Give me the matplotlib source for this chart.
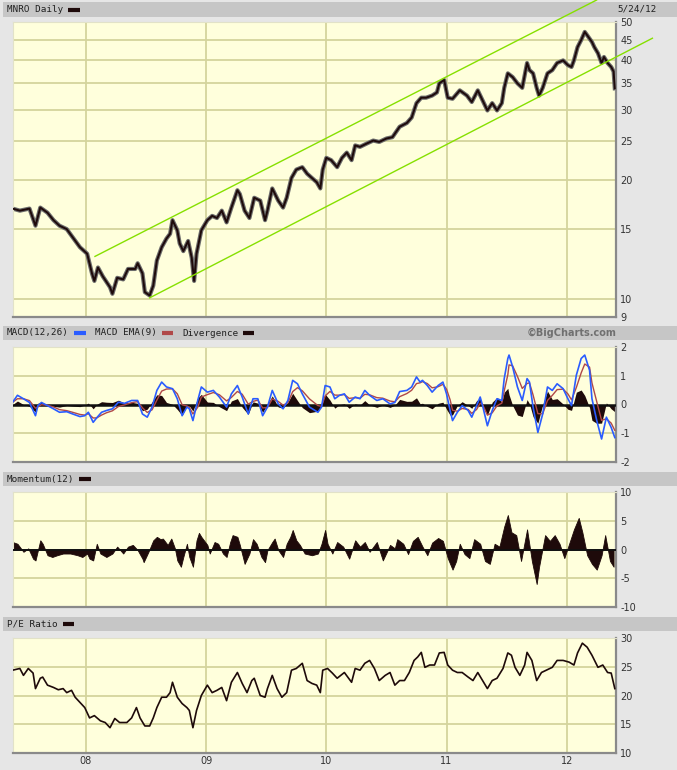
import matplotlib
matplotlib.use("Agg")
import matplotlib.pyplot as plt
from matplotlib.patches import Rectangle
from matplotlib.lines import Line2D
from matplotlib.ticker import NullLocator
import pandas as pd

# ---- data (decimal years) ----
price_dates = [
    2007.39, 2007.45, 2007.53, 2007.58, 2007.62, 2007.68, 2007.73, 2007.78, 2007.84, 2007.89,
    2007.95, 2008.01, 2008.05, 2008.07, 2008.10, 2008.14, 2008.20, 2008.22, 2008.26, 2008.31,
    2008.35, 2008.41, 2008.43, 2008.47, 2008.49, 2008.53, 2008.56, 2008.59, 2008.63, 2008.67,
    2008.70, 2008.72, 2008.76, 2008.78, 2008.81, 2008.85, 2008.88, 2008.90, 2008.92, 2008.96,
    2009.01, 2009.05, 2009.09, 2009.13, 2009.17, 2009.21, 2009.26, 2009.28, 2009.32, 2009.36,
    2009.40, 2009.45, 2009.49, 2009.51, 2009.55, 2009.60, 2009.64, 2009.67, 2009.71, 2009.75,
    2009.80, 2009.84, 2009.88, 2009.92, 2009.95, 2009.97, 2010.00, 2010.04, 2010.09, 2010.13,
    2010.17, 2010.21, 2010.24, 2010.28, 2010.34, 2010.39, 2010.44, 2010.50, 2010.55, 2010.61,
    2010.67, 2010.71, 2010.75, 2010.79, 2010.83, 2010.88, 2010.92, 2010.94, 2010.98, 2011.01,
    2011.05, 2011.11, 2011.17, 2011.21, 2011.26, 2011.30, 2011.34, 2011.38, 2011.42, 2011.46,
    2011.48, 2011.51, 2011.55, 2011.59, 2011.63, 2011.67, 2011.69, 2011.72, 2011.75, 2011.77,
    2011.80, 2011.84, 2011.88, 2011.92, 2011.97, 2012.01, 2012.04, 2012.06, 2012.09, 2012.12,
    2012.15, 2012.17, 2012.21, 2012.23, 2012.26, 2012.29, 2012.31, 2012.34, 2012.37, 2012.39,
    2012.40]
price = [
    16.9, 16.7, 16.9, 15.3, 17.0, 16.5, 15.8, 15.3, 15.0, 14.3,
    13.5, 13.0, 11.6, 11.1, 12.0, 11.4, 10.7, 10.3, 11.3, 11.2,
    11.9, 11.9, 12.3, 11.6, 10.4, 10.2, 10.8, 12.5, 13.5, 14.2,
    14.6, 15.8, 14.9, 13.8, 13.2, 14.0, 12.7, 11.1, 13.0, 14.9,
    15.8, 16.2, 16.0, 16.7, 15.6, 17.0, 18.8, 18.4, 16.7, 16.0,
    18.0, 17.7, 15.8, 16.7, 19.0, 17.7, 17.0, 18.0, 20.2, 21.2,
    21.5, 20.7, 20.2, 19.7, 19.0, 21.2, 22.7, 22.4, 21.5, 22.7,
    23.4, 22.4, 24.4, 24.2, 24.7, 25.1, 24.9, 25.4, 25.6, 27.2,
    27.8, 28.7, 31.2, 32.2, 32.2, 32.6, 33.2, 35.0, 35.7, 32.2,
    32.0, 33.6, 32.6, 31.4, 33.6, 31.7, 29.9, 31.2, 29.9, 31.2,
    34.1, 37.1, 36.3, 35.0, 34.1, 39.4, 37.8, 37.1, 34.1, 32.6,
    34.1, 37.1, 37.8, 39.4, 40.0, 38.9, 38.5, 40.0, 43.2, 45.0,
    47.2, 46.3, 44.5, 43.2, 41.7, 39.4, 40.8, 39.4, 38.5, 37.5,
    34.0]

# trend channel end points (date, price)
channel_upper = [(2008.075, 12.8), (2012.248, 56.8)]
channel_lower = [(2008.53, 10.06), (2012.713, 45.5)]

macd_dates = [
    2007.39, 2007.43, 2007.48, 2007.53, 2007.58, 2007.60, 2007.63, 2007.68, 2007.73, 2007.78,
    2007.84, 2007.89, 2007.95, 2007.99, 2008.02, 2008.06, 2008.09, 2008.13, 2008.17, 2008.22,
    2008.27, 2008.32, 2008.38, 2008.43, 2008.47, 2008.51, 2008.55, 2008.59, 2008.63, 2008.67,
    2008.72, 2008.76, 2008.80, 2008.84, 2008.86, 2008.89, 2008.93, 2008.96, 2009.01, 2009.06,
    2009.11, 2009.17, 2009.21, 2009.26, 2009.30, 2009.35, 2009.39, 2009.43, 2009.47, 2009.51,
    2009.55, 2009.60, 2009.64, 2009.68, 2009.72, 2009.76, 2009.80, 2009.86, 2009.93, 2009.96,
    2009.99, 2010.03, 2010.07, 2010.11, 2010.15, 2010.19, 2010.24, 2010.28, 2010.32, 2010.36,
    2010.42, 2010.47, 2010.53, 2010.57, 2010.61, 2010.67, 2010.71, 2010.75, 2010.78, 2010.80,
    2010.84, 2010.88, 2010.93, 2010.97, 2011.00, 2011.03, 2011.05, 2011.09, 2011.13, 2011.18,
    2011.21, 2011.25, 2011.28, 2011.30, 2011.34, 2011.38, 2011.42, 2011.46, 2011.48, 2011.51,
    2011.52, 2011.55, 2011.59, 2011.63, 2011.67, 2011.69, 2011.72, 2011.76, 2011.80, 2011.84,
    2011.88, 2011.92, 2011.97, 2012.01, 2012.04, 2012.08, 2012.12, 2012.15, 2012.19, 2012.21,
    2012.25, 2012.29, 2012.33, 2012.37, 2012.40]
macd = [
    0.08, 0.32, 0.20, 0.07, -0.39, -0.04, 0.07, -0.04, -0.15, -0.27,
    -0.25, -0.33, -0.42, -0.39, -0.27, -0.62, -0.46, -0.27, -0.21, -0.15,
    0.08, 0.04, 0.14, 0.14, -0.33, -0.44, -0.09, 0.49, 0.78, 0.61,
    0.55, 0.20, -0.39, -0.09, -0.15, -0.56, 0.14, 0.61, 0.43, 0.49,
    0.26, -0.09, 0.37, 0.66, 0.26, -0.33, 0.20, 0.20, -0.39, -0.09,
    0.49, 0.02, -0.15, 0.14, 0.84, 0.72, 0.37, -0.09, -0.27, -0.09,
    0.66, 0.61, 0.20, 0.32, 0.37, 0.08, 0.26, 0.20, 0.49, 0.32,
    0.14, 0.20, 0.02, 0.07, 0.45, 0.49, 0.61, 0.96, 0.78, 0.84,
    0.66, 0.43, 0.66, 0.78, 0.37, -0.21, -0.56, -0.27, -0.04, -0.21,
    -0.44, -0.04, 0.26, -0.04, -0.74, -0.21, 0.20, 0.14, 0.90, 1.60,
    1.72, 1.31, 0.61, 0.14, 0.90, 0.78, -0.09, -0.97, -0.33, 0.61,
    0.49, 0.72, 0.55, 0.20, -0.04, 1.02, 1.60, 1.72, 1.19, 0.20,
    -0.56, -1.20, -0.44, -0.80, -1.15]

mom_dates = [
    2007.39, 2007.43, 2007.48, 2007.52, 2007.56, 2007.58, 2007.62, 2007.64, 2007.68, 2007.72,
    2007.76, 2007.81, 2007.87, 2007.93, 2007.97, 2008.01, 2008.03, 2008.06, 2008.09, 2008.12,
    2008.17, 2008.22, 2008.26, 2008.31, 2008.35, 2008.39, 2008.43, 2008.47, 2008.48, 2008.52,
    2008.56, 2008.59, 2008.62, 2008.64, 2008.68, 2008.71, 2008.74, 2008.76, 2008.79, 2008.81,
    2008.84, 2008.86, 2008.89, 2008.92, 2008.94, 2008.96, 2009.01, 2009.03, 2009.07, 2009.10,
    2009.14, 2009.17, 2009.20, 2009.22, 2009.26, 2009.28, 2009.32, 2009.36, 2009.39, 2009.42,
    2009.46, 2009.49, 2009.51, 2009.55, 2009.57, 2009.60, 2009.64, 2009.67, 2009.70, 2009.72,
    2009.75, 2009.78, 2009.82, 2009.88, 2009.93, 2009.96, 2009.99, 2010.01, 2010.05, 2010.09,
    2010.14, 2010.19, 2010.24, 2010.28, 2010.32, 2010.36, 2010.42, 2010.47, 2010.53, 2010.57,
    2010.59, 2010.64, 2010.68, 2010.72, 2010.76, 2010.80, 2010.84, 2010.88, 2010.93, 2010.97,
    2011.01, 2011.05, 2011.08, 2011.11, 2011.15, 2011.19, 2011.23, 2011.28, 2011.32, 2011.36,
    2011.40, 2011.44, 2011.48, 2011.51, 2011.54, 2011.58, 2011.62, 2011.67, 2011.71, 2011.75,
    2011.77, 2011.82, 2011.86, 2011.90, 2011.94, 2011.98, 2012.02, 2012.06, 2012.10, 2012.13,
    2012.17, 2012.21, 2012.25, 2012.29, 2012.32, 2012.36, 2012.39]
momentum = [
    1.3, 1.0, -0.4, 0.2, -1.6, -1.9, 1.6, 1.0, -1.0, -1.3,
    -1.0, -0.7, -0.7, -1.0, -1.3, -0.7, -1.6, -1.9, 1.0, -0.7,
    -1.3, -0.7, 0.5, -0.7, 0.5, 0.8, -0.1, -1.6, -2.2, -0.4,
    1.6, 2.2, 1.8, 1.9, 0.8, 1.9, 0.2, -1.9, -3.0, -1.3,
    1.0, -1.3, -3.0, 1.6, 2.9, 2.2, 0.8, -0.7, 1.3, 1.0,
    -0.7, -1.3, 1.3, 2.5, 2.2, 0.8, -2.5, -0.7, 1.8, 1.0,
    -1.3, -2.2, -0.1, 1.3, 1.9, -0.1, -1.3, 1.0, 2.2, 3.4,
    1.6, 0.8, -0.7, -1.0, -0.7, 1.0, 3.4, 1.0, -0.7, 1.3,
    0.5, -1.6, 1.6, 0.5, 1.3, -0.4, 1.3, -1.9, 0.8, 0.2,
    1.8, 1.0, -0.8, 1.5, 2.2, 0.5, -1.0, 1.2, 2.0, 1.5,
    -1.5, -3.5, -2.0, 1.0, -0.8, -1.5, 1.8, 1.0, -2.0, -2.5,
    1.0, 0.5, 4.0, 6.0, 3.0, 2.5, -2.0, 3.5, -2.0, -6.0,
    -3.0, 2.5, 1.5, 2.5, 1.0, -1.5, 1.0, 3.5, 5.5, 3.0,
    -1.0, -2.5, -3.5, -1.0, 2.5, -2.0, -3.0]

pe_dates = [
    2007.39, 2007.45, 2007.48, 2007.52, 2007.56, 2007.58, 2007.62, 2007.64, 2007.68, 2007.73,
    2007.77, 2007.81, 2007.84, 2007.88, 2007.91, 2007.95, 2007.99, 2008.03, 2008.07, 2008.12,
    2008.16, 2008.20, 2008.24, 2008.28, 2008.34, 2008.38, 2008.42, 2008.45, 2008.49, 2008.53,
    2008.56, 2008.59, 2008.63, 2008.67, 2008.70, 2008.72, 2008.76, 2008.80, 2008.84, 2008.86,
    2008.89, 2008.92, 2008.96, 2009.01, 2009.05, 2009.09, 2009.13, 2009.17, 2009.21, 2009.26,
    2009.30, 2009.34, 2009.38, 2009.40, 2009.45, 2009.49, 2009.51, 2009.55, 2009.59, 2009.63,
    2009.67, 2009.71, 2009.75, 2009.80, 2009.84, 2009.88, 2009.92, 2009.95, 2009.97, 2010.01,
    2010.05, 2010.09, 2010.15, 2010.21, 2010.24, 2010.28, 2010.32, 2010.36, 2010.40, 2010.44,
    2010.49, 2010.53, 2010.57, 2010.61, 2010.65, 2010.69, 2010.73, 2010.76, 2010.79, 2010.82,
    2010.86, 2010.90, 2010.94, 2010.98, 2011.01, 2011.05, 2011.09, 2011.13, 2011.18, 2011.22,
    2011.26, 2011.30, 2011.34, 2011.38, 2011.42, 2011.47, 2011.51, 2011.54, 2011.57, 2011.61,
    2011.65, 2011.67, 2011.71, 2011.75, 2011.79, 2011.83, 2011.88, 2011.92, 2011.97, 2012.02,
    2012.06, 2012.09, 2012.13, 2012.17, 2012.21, 2012.26, 2012.30, 2012.34, 2012.37, 2012.40]
pe_ratio = [
    24.4, 24.7, 23.5, 24.7, 23.9, 21.2, 23.0, 23.2, 21.8, 21.4,
    21.0, 21.2, 20.5, 20.9, 19.7, 18.8, 17.9, 16.1, 16.5, 15.6,
    15.3, 14.4, 16.0, 15.3, 15.3, 16.1, 17.9, 16.1, 14.7, 14.7,
    16.1, 17.9, 19.7, 19.7, 20.5, 22.3, 19.7, 18.6, 17.9, 17.4,
    14.4, 17.4, 20.0, 21.8, 20.5, 20.9, 21.4, 19.1, 22.3, 24.0,
    22.1, 20.5, 22.6, 23.0, 20.0, 19.7, 21.2, 23.5, 21.2, 19.7,
    20.5, 24.4, 24.7, 25.6, 22.6, 22.1, 21.8, 20.5, 24.4, 24.7,
    23.9, 23.0, 24.0, 22.3, 24.7, 24.4, 25.6, 26.1, 24.7, 22.6,
    23.5, 24.0, 21.8, 22.6, 22.6, 24.0, 26.1, 26.7, 27.5, 24.9,
    25.3, 25.3, 27.4, 27.5, 25.3, 24.4, 24.0, 24.0, 23.2, 22.6,
    24.0, 22.6, 21.2, 22.6, 23.0, 24.7, 27.4, 27.0, 24.9, 23.5,
    25.3, 27.5, 26.1, 22.6, 24.0, 24.4, 24.9, 26.1, 26.1, 25.8,
    25.3, 27.4, 29.1, 28.4, 27.0, 24.9, 25.3, 24.0, 23.9, 21.2]

year_ticks = [2008, 2009, 2010, 2011, 2012]
year_labels = ["08", "09", "10", "11", "12"]

# signal line and divergence derived from the MACD readings
signal = pd.Series(macd).ewm(alpha=0.5, adjust=False).mean().values
divergence = [m - s for m, s in zip(macd, signal)]

# ---- layout ----
W, H = 677, 770
BG = "#ffffdc"
GRID = "#d4d49c"
INK = "#1e0a0a"
MONO = "DejaVu Sans Mono"

fig = plt.figure(figsize=(W / 100, H / 100), dpi=100, facecolor="#e6e6e6")


def fx(px):
    return px / W


def fy(py):
    return 1 - py / H


def panel(y0, y1):
    ax = fig.add_axes([fx(13), fy(y1), fx(603), (y1 - y0) / H])
    ax.set_facecolor(BG)
    ax.set_xlim(2007.393, 2012.41)
    for yr in year_ticks:
        ax.axvline(yr, color=GRID, lw=1.3, zorder=0)
    ax.yaxis.tick_right()
    ax.tick_params(axis="both", length=0, labelsize=7, labelcolor="#333333", pad=3)
    ax.set_xticks(year_ticks)
    ax.set_xticklabels([])
    for side in ["top", "left"]:
        ax.spines[side].set_color("#e2e2c8")
        ax.spines[side].set_linewidth(0.8)
    for side in ["bottom", "right"]:
        ax.spines[side].set_color("#8a8a8a")
        ax.spines[side].set_linewidth(1.6)
    return ax


def header(y0, y1):
    fig.add_artist(Rectangle((fx(3), fy(y1)), fx(W - 3), (y1 - y0) / H,
                             transform=fig.transFigure, facecolor="#c6c6c6",
                             edgecolor="none", zorder=-1))


def swatch(x0, x1, yc, color):
    fig.add_artist(Line2D([fx(x0), fx(x1)], [fy(yc), fy(yc)], lw=3,
                          color=color, solid_capstyle="butt"))


def label(x, yc, s, **kw):
    fig.text(fx(x), fy(yc), s, fontsize=6.7, family=MONO, color="#202020",
             va="center", **kw)


# headers
header(2, 17)
label(7, 9.5, "MNRO Daily")
swatch(68, 80, 9.5, INK)
label(657, 9.5, "5/24/12", ha="right")

header(326, 340)
label(7, 333, "MACD(12,26)")
swatch(74, 86, 333, "#2a5cff")
label(95, 333, "MACD EMA(9)")
swatch(162, 173, 333, "#b04848")
label(182, 333, "Divergence")
swatch(243, 254, 333, INK)
fig.text(fx(617), fy(333), "\u00a9BigCharts.com", fontsize=7, weight="bold",
         color="#707070", ha="right", va="center")

header(472, 486)
label(7, 479, "Momentum(12)")
swatch(79, 91, 479, INK)

header(617, 631)
label(7, 624, "P/E Ratio")
swatch(63, 74, 624, INK)

# price panel
ax1 = panel(22, 317)
ax1.set_yscale("log")
ax1.set_ylim(9, 50)
price_ticks = [9, 10, 15, 20, 25, 30, 35, 40, 45, 50]
ax1.yaxis.set_minor_locator(NullLocator())
ax1.set_yticks(price_ticks)
ax1.set_yticklabels([str(v) for v in price_ticks])
for v in price_ticks[1:-1]:
    ax1.axhline(v, color=GRID, lw=1.3, zorder=0)
ax1.plot(price_dates, price, color="#6a6a6a", lw=3.0, zorder=2)
ax1.plot(price_dates, price, color=INK, lw=1.4, zorder=3)
for seg in (channel_upper, channel_lower):
    ax1.plot([seg[0][0], seg[1][0]], [seg[0][1], seg[1][1]], color="#86e000",
             lw=1.0, clip_on=False, zorder=4)

# MACD panel
ax2 = panel(347, 462)
ax2.set_ylim(-2, 2)
ax2.set_yticks([2, 1, 0, -1, -2])
ax2.set_yticklabels(["2", "1", "0", "-1", "-2"])
for v in (1, -1):
    ax2.axhline(v, color=GRID, lw=1.3, zorder=0)
ax2.fill_between(macd_dates, divergence, 0, color=INK, lw=0, zorder=2)
ax2.axhline(0, color="#101010", lw=1.8, zorder=3)
ax2.plot(macd_dates, signal, color="#b04848", lw=1.0, zorder=4)
ax2.plot(macd_dates, macd, color="#2a5cff", lw=1.2, zorder=5)

# momentum panel
ax3 = panel(492, 607)
ax3.set_ylim(-10, 10)
ax3.set_yticks([10, 5, 0, -5, -10])
ax3.set_yticklabels(["10", "5", "0", "-5", "-10"])
for v in (5, -5):
    ax3.axhline(v, color=GRID, lw=1.3, zorder=0)
ax3.fill_between(mom_dates, momentum, 0, color=INK, lw=0.6, zorder=2)
ax3.axhline(0, color="#101010", lw=1.4, zorder=3)

# P/E panel
ax4 = panel(638, 753)
ax4.set_ylim(10, 30)
ax4.set_yticks([30, 25, 20, 15, 10])
ax4.set_yticklabels(["30", "25", "20", "15", "10"])
for v in (25, 20, 15):
    ax4.axhline(v, color=GRID, lw=1.3, zorder=0)
ax4.plot(pe_dates, pe_ratio, color=INK, lw=1.2, zorder=3)
ax4.set_xticklabels(year_labels)
ax4.tick_params(axis="x", pad=2)

fig.savefig("out.png", dpi=100, facecolor=fig.get_facecolor())
